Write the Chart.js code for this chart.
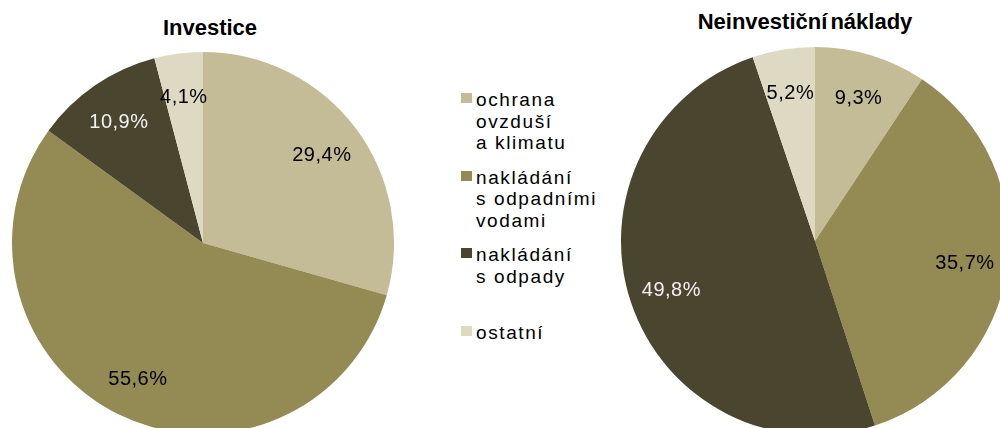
<!DOCTYPE html>
<html>
<head>
<meta charset="utf-8">
<script src="https://cdn.jsdelivr.net/npm/chart.js@4/dist/chart.umd.min.js"></script>
<style>
  html, body { margin: 0; padding: 0; width: 1000px; height: 428px; overflow: hidden; background: #fff; }
  body { position: relative; font-family: "Liberation Sans", Arial, sans-serif; }
  .title { position: absolute; font-weight: bold; font-size: 22px; color: #000; white-space: nowrap; transform: translateX(-50%); word-spacing: -3px; }
  #invCanvas { position: absolute; left: 12px; top: 52px; }
  #nonCanvas { position: absolute; left: 621px; top: 47px; }
  #legend { position: absolute; left: 461px; top: 89px; width: 135px; }
  .item { position: relative; padding-left: 15px; min-height: 64.5px; margin-bottom: 13px;
          font-size: 19px; line-height: 21.5px; letter-spacing: 1.6px; color: #000; }
  .item.last { margin-top: 7.5px; min-height: 0; }
  .item .box { position: absolute; left: 0; top: 4px; width: 11px; height: 10px; }
</style>
</head>
<body>
<div class="title" style="left:210px; top:15px;">Investice</div>
<div class="title" style="left:805px; top:9px;">Neinvestiční náklady</div>
<canvas id="invCanvas" width="382" height="382"></canvas>
<canvas id="nonCanvas" width="388" height="388"></canvas>
<div id="legend"></div>

<script>
// categories (non-breaking space after one-letter prepositions, as in the original)
const categories = ['ochrana ovzduší a\u00a0klimatu', 'nakládání s\u00a0odpadními vodami', 'nakládání s\u00a0odpady', 'ostatní'];
const investice = [29.4, 55.6, 10.9, 4.1];
const neinvesticni = [9.3, 35.7, 49.8, 5.2];

const colors = ['#C4BC96', '#948A54', '#4A452E', '#DDD9C3'];
const labelColors = ['#000000', '#000000', '#F2F2F2', '#000000'];

// legend shared by both pies
const legendEl = document.getElementById('legend');
categories.forEach(function(cat, i) {
    const item = document.createElement('div');
    item.className = 'item' + (i === categories.length - 1 ? ' last' : '');
    const box = document.createElement('span');
    box.className = 'box';
    box.style.background = colors[i];
    item.appendChild(box);
    item.appendChild(document.createTextNode(cat));
    legendEl.appendChild(item);
});

// percentage labels inside the slices
const sliceLabels = {
    id: 'sliceLabels',
    afterDatasetsDraw(chart) {
        const ctx = chart.ctx;
        const ds = chart.data.datasets[0];
        chart.getDatasetMeta(0).data.forEach(function(arc, i) {
            const mid = (arc.startAngle + arc.endAngle) / 2;
            const r = arc.outerRadius * 0.78;
            const x = arc.x + Math.cos(mid) * r;
            const y = arc.y + Math.sin(mid) * r + 2;
            ctx.save();
            ctx.font = '20px "Liberation Sans", Arial, sans-serif';
            ctx.letterSpacing = '0.5px';
            ctx.fillStyle = labelColors[i];
            ctx.textAlign = 'center';
            ctx.textBaseline = 'middle';
            ctx.fillText(ds.data[i].toFixed(1).replace('.', ',') + '%', x, y);
            ctx.restore();
        });
    }
};

function makePie(id, values) {
    new Chart(document.getElementById(id), {
        type: 'pie',
        data: {
            labels: categories,
            datasets: [{
                data: values,
                backgroundColor: colors,
                borderWidth: 0
            }]
        },
        options: {
            responsive: false,
            animation: false,
            layout: { padding: 0 },
            plugins: {
                legend: { display: false },
                tooltip: { enabled: false }
            }
        },
        plugins: [sliceLabels]
    });
}

makePie('invCanvas', investice);
makePie('nonCanvas', neinvesticni);
</script>
</body>
</html>
